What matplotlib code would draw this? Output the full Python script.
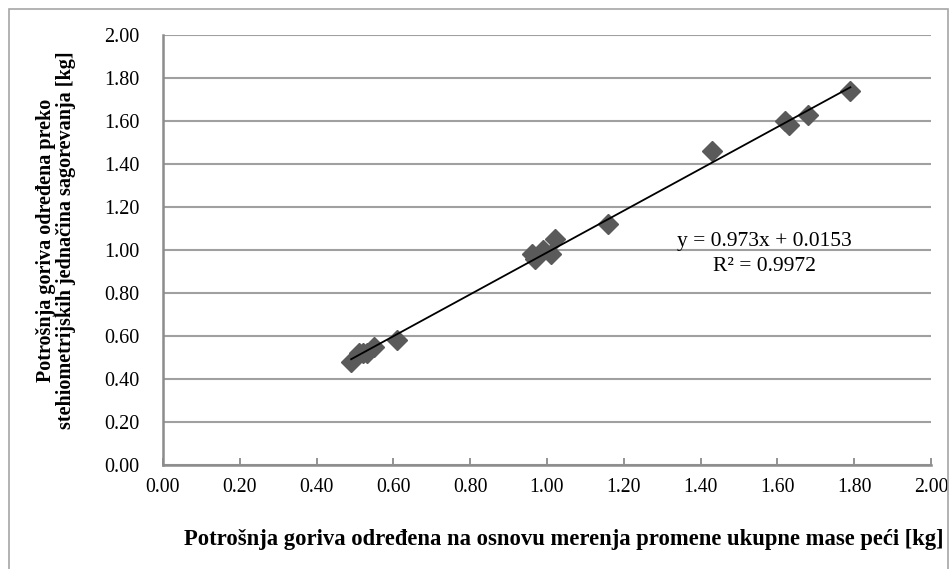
import matplotlib.pyplot as plt
import matplotlib.patches as patches
import numpy as np

# DATA ##########################################

x_mass = [0.49, 0.51, 0.52, 0.53, 0.55, 0.61, 0.96, 0.97, 0.99, 1.01, 1.02,
          1.16, 1.43, 1.62, 1.63, 1.68, 1.79]
y_stoich = [0.48, 0.52, 0.52, 0.52, 0.55, 0.58, 0.98, 0.96, 1.00, 0.98, 1.05,
            1.12, 1.46, 1.60, 1.58, 1.63, 1.74]
slope = 0.973
intercept = 0.0153
r2 = 0.9972
ticks = [0.0, 0.2, 0.4, 0.6, 0.8, 1.0, 1.2, 1.4, 1.6, 1.8, 2.0]

# SETUP #########################################

plt.rcParams['font.family'] = ['Liberation Serif', 'DejaVu Serif']

W, H = 952, 569
fig = plt.figure(figsize=(W / 100, H / 100), dpi=100)
ax = fig.add_axes([163 / W, 1 - 465 / H, (931 - 163) / W, (465 - 35) / H])

# outer chart frame
fig.patches.append(patches.Rectangle(
    (9 / W, -0.02), (948 - 9) / W, 1 - 9 / H + 0.02,
    transform=fig.transFigure, fill=False, edgecolor='#a6a6a6', linewidth=1.2))

ax.set_xlim(0, 2)
ax.set_ylim(0, 2)
ax.set_xticks(ticks)
ax.set_yticks(ticks)
ax.set_xticklabels([f'{t:.2f}' for t in ticks], fontsize=14.2)
ax.set_yticklabels([f'{t:.2f}' for t in ticks], fontsize=14.5)
ax.tick_params(axis='x', direction='in', length=5, width=1.2, color='#808080', pad=9)
ax.tick_params(axis='y', direction='out', length=0, pad=17)

for s in ['top', 'right']:
    ax.spines[s].set_visible(False)
for s in ['left', 'bottom']:
    ax.spines[s].set_color('#8c8c8c')
    ax.spines[s].set_linewidth(1.8)

ax.grid(axis='y', color='#a0a0a0', linewidth=1.5)
ax.set_axisbelow(True)

# PLOTTING ######################################

ax.plot(x_mass, y_stoich, linestyle='none', marker='D', markersize=10,
        color='#5a5a5a', zorder=3)

xl = np.array([min(x_mass), max(x_mass)])
ax.plot(xl, slope * xl + intercept, color='black', linewidth=1.3, zorder=4)

ax.text(1.565, 1.04, f'y = {slope}x + {intercept}', fontsize=15.5,
        ha='center', va='center')
ax.text(1.565, 0.925, f'R² = {r2}', fontsize=15.5, ha='center', va='center')

# LABELS ########################################

fig.text(564 / W, 1 - 540 / H,
         'Potrošnja goriva određena na osnovu merenja promene ukupne mase peći [kg]',
         fontsize=16.3, fontweight='bold', ha='center', va='center')
fig.text(56 / W, 1 - 240 / H,
         'Potrošnja goriva određena preko\nstehiometrijskih jednačina sagorevanja [kg]',
         fontsize=14.5, fontweight='bold', ha='center', va='center',
         rotation=90, linespacing=1.05, multialignment='center')

plt.savefig('out.png', dpi=100)
